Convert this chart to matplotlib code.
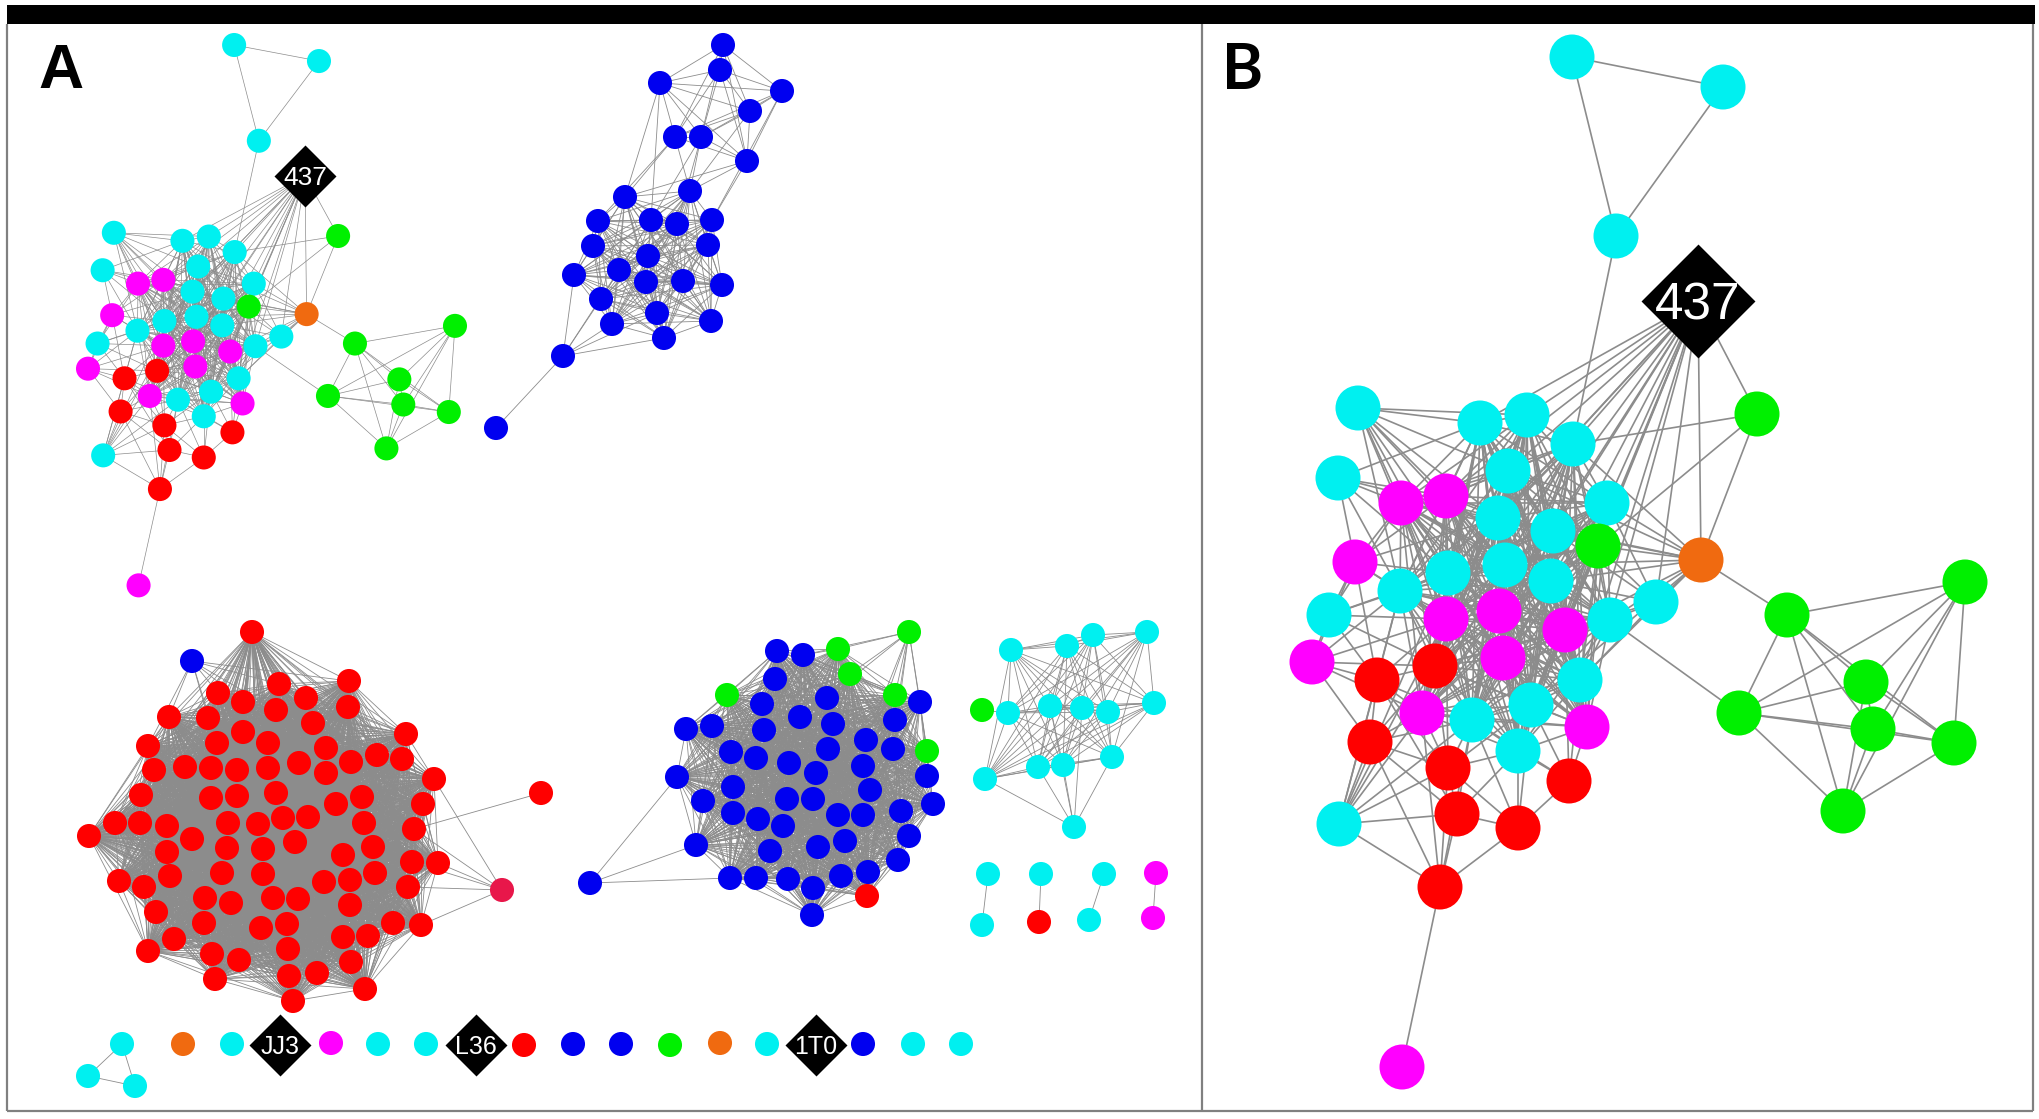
import itertools
import matplotlib
matplotlib.use("Agg")
import matplotlib.pyplot as plt
from matplotlib.collections import LineCollection
from matplotlib.patches import Rectangle

W, H, DPI = 2040, 1119, 100
COL = {'c': '#00F0F0', 'm': '#FF00FF', 'r': '#FF0000', 'b': '#0000F0',
       'g': '#00F000', 'o': '#F06A10', 'k': '#E8174A'}
EDGE = '#8c8c8c'
FONT = ['Liberation Sans', 'DejaVu Sans']

# ---------------- Graph around node 437 (panel B coordinates) ----------------
b_x = [1572, 1723, 1616, 1698, 1757, 1358, 1480, 1527, 1573, 1338, 1508, 1401, 1446, 1498,
       1553, 1607, 1598, 1701, 1355, 1505, 1448, 1551, 1400, 1329, 1446, 1499, 1565, 1610,
       1656, 1312, 1377, 1435, 1503, 1580, 1531, 1422, 1472, 1587, 1370, 1448, 1518, 1569,
       1339, 1457, 1518, 1440, 1402, 1787, 1965, 1866, 1739, 1873, 1954, 1843]
b_y = [57, 87, 236, 301, 414, 408, 423, 415, 444, 478, 471, 503, 496, 518,
       531, 503, 546, 560, 562, 565, 573, 581, 591, 615, 619, 611, 630, 620,
       602, 662, 680, 666, 658, 680, 705, 713, 720, 727, 742, 768, 751, 781,
       824, 814, 828, 887, 1067, 615, 582, 682, 713, 729, 743, 811]
b_col = ['c', 'c', 'c', 'D', 'g', 'c', 'c', 'c', 'c', 'c', 'c', 'm', 'm', 'c',
         'c', 'c', 'g', 'o', 'm', 'c', 'c', 'c', 'c', 'c', 'm', 'm', 'm', 'c',
         'c', 'm', 'r', 'r', 'm', 'c', 'c', 'm', 'c', 'm', 'r', 'r', 'c', 'r',
         'c', 'r', 'r', 'r', 'm', 'g', 'g', 'g', 'g', 'g', 'g', 'g']
b_labels = {3: '437'}
b_core = [6, 7, 8, 10, 11, 12, 13, 14, 15, 16, 19, 20, 21, 22, 24, 25, 26, 27, 31, 32,
          33, 34, 35, 36, 37, 40]
b_green = [47, 48, 49, 50, 51, 52, 53]
b_links = [
    (0, 1), (0, 2), (1, 2), (2, 8),
    (3, 4), (3, 17), (3, 6), (3, 7), (3, 8), (3, 10), (3, 13), (3, 14), (3, 15), (3, 16),
    (3, 19), (3, 21), (3, 25), (3, 26), (3, 27), (3, 28), (3, 33), (3, 34), (3, 12), (3, 20),
    (4, 8), (4, 17), (4, 16),
    (17, 47), (17, 8), (17, 14), (17, 15), (17, 16), (17, 21), (17, 26), (17, 27), (17, 28),
    (17, 33), (17, 10), (17, 13), (17, 34), (17, 19), (27, 50),
    (5, 6), (5, 7), (5, 10), (5, 11), (5, 12), (5, 13), (5, 20), (5, 22), (5, 19), (5, 24), (5, 25),
    (9, 11), (9, 12), (9, 13), (9, 22), (9, 18), (9, 20), (9, 6),
    (18, 11), (18, 12), (18, 22), (18, 24), (18, 20), (18, 13), (18, 29), (18, 30),
    (23, 18), (23, 22), (23, 24), (23, 29), (23, 30), (23, 31), (23, 20), (23, 11),
    (28, 15), (28, 16), (28, 21), (28, 27), (28, 33), (28, 26), (28, 14),
    (29, 30), (29, 38), (29, 22), (29, 24), (29, 35), (29, 31),
    (30, 22), (30, 24), (30, 31), (30, 35), (30, 38), (30, 36), (30, 39), (30, 42), (30, 43),
    (38, 35), (38, 36), (38, 39), (38, 42), (38, 43), (38, 45), (38, 31),
    (39, 35), (39, 36), (39, 40), (39, 43), (39, 44), (39, 45), (39, 31), (39, 34), (39, 24),
    (41, 37), (41, 40), (41, 44), (41, 33), (41, 34), (41, 36), (41, 26),
    (42, 35), (42, 36), (42, 24), (42, 39), (42, 43), (42, 45), (42, 31), (42, 20), (42, 22),
    (43, 40), (43, 44), (43, 45), (43, 36),
    (44, 40), (44, 45), (44, 34), (44, 36),
    (45, 35), (45, 36), (46, 45),
]

# ---------------- Panel A: upper blue component ----------------
u_x = [723, 720, 660, 782, 750, 675, 701, 747,
       625, 690, 598, 651, 677, 712, 593, 708, 648, 574, 619, 646, 683, 722, 601, 657, 612, 711, 664,
       563, 496]
u_y = [45, 70, 83, 91, 111, 137, 137, 161,
       197, 191, 221, 220, 224, 220, 246, 245, 256, 275, 270, 282, 281, 285, 299, 313, 324, 321, 338,
       356, 428]
u_col = ['b'] * len(u_x)
u_top = list(range(0, 8))
u_core = list(range(8, 27))
u_links = [(27, 17), (27, 22), (27, 24), (27, 26), (27, 23), (27, 18), (28, 27),
           (2, 8), (2, 11), (5, 8), (5, 9), (5, 10), (6, 9), (6, 11), (6, 12), (7, 9), (7, 13),
           (7, 8), (4, 9), (3, 13)]

# ---------------- Panel A: big red component ----------------
r_x = [252, 279, 349, 218, 243, 306, 169, 208, 276, 348, 313, 406, 148, 217, 243, 268, 326, 377,
       402, 351, 299, 154, 185, 211, 237, 268, 326, 434, 141, 211, 237, 276, 336, 362, 423, 115,
       140, 167, 89, 192, 228, 258, 283, 308, 364, 414, 167, 227, 263, 295, 343, 373, 412, 438,
       119, 144, 170, 222, 263, 324, 350, 375, 408, 156, 205, 231, 273, 298, 350, 204, 261, 287,
       393, 421, 174, 148, 343, 368, 212, 239, 288, 351, 215, 289, 317, 365, 293,
       192, 502, 541]
r_y = [632, 684, 681, 693, 702, 698, 717, 718, 710, 707, 723, 734, 746, 743, 732, 743, 748, 755,
       759, 762, 763, 770, 767, 768, 770, 768, 773, 779, 795, 798, 796, 793, 804, 797, 804, 823,
       823, 826, 836, 839, 823, 824, 818, 817, 823, 829, 852, 848, 849, 842, 855, 847, 862, 863,
       881, 887, 876, 873, 874, 882, 880, 873, 887, 912, 898, 903, 898, 899, 905, 923, 928, 924,
       923, 925, 939, 951, 937, 936, 954, 960, 949, 962, 979, 976, 973, 989, 1001,
       661, 890, 793]
r_col = ['r'] * 87 + ['b', 'k', 'r']
r_core = list(range(0, 87))
r_links = [(87, 1), (87, 2), (87, 3), (87, 4), (87, 6), (87, 7), (87, 8), (87, 12), (87, 13),
           (88, 27), (88, 53), (88, 52), (88, 73), (88, 62), (88, 45), (89, 45)]

# ---------------- Panel A: blue / green component ----------------
v_x = [777, 803, 838, 909, 850, 775, 727, 827, 895, 920, 762, 800, 833, 895, 686, 712, 764, 866,
       828, 893, 927, 731, 756, 789, 863, 816, 927, 677, 733, 870, 703, 787, 813, 933, 733, 758,
       838, 863, 901, 783, 909, 845, 696, 770, 818, 898, 730, 756, 788, 841, 868, 813, 867, 812,
       590]
v_y = [651, 655, 649, 632, 674, 679, 695, 698, 695, 702, 704, 717, 724, 720, 729, 726, 730, 740,
       749, 749, 751, 752, 758, 763, 766, 773, 776, 777, 787, 790, 801, 799, 799, 804, 813, 819,
       815, 815, 811, 826, 836, 841, 845, 851, 847, 860, 878, 878, 879, 876, 872, 888, 896, 915,
       883]
v_col = ['b', 'b', 'g', 'g', 'g', 'b', 'g', 'b', 'g', 'b', 'b', 'b', 'b', 'b', 'b', 'b', 'b', 'b',
         'b', 'b', 'g', 'b', 'b', 'b', 'b', 'b', 'b', 'b', 'b', 'b', 'b', 'b', 'b', 'b', 'b', 'b',
         'b', 'b', 'b', 'b', 'b', 'b', 'b', 'b', 'b', 'b', 'b', 'b', 'b', 'b', 'b', 'b', 'r', 'b',
         'b']
v_core = [i for i in range(54) if i != 3]
v_links = [(3, 1), (3, 2), (3, 4), (3, 8), (3, 9), (3, 20), (3, 7), (3, 13), (3, 17), (3, 24),
           (3, 19), (54, 27), (54, 42), (54, 46)]

# ---------------- Panel A: cyan component and small pairs ----------------
k_x = [1011, 1067, 1093, 1147, 982, 1008, 1050, 1082, 1108, 1154, 985, 1038, 1063, 1112, 1074,
       988, 982, 1041, 1039, 1104, 1089, 1156, 1153]
k_y = [650, 646, 635, 632, 710, 713, 706, 708, 712, 703, 779, 767, 765, 757, 827,
       874, 925, 874, 922, 874, 920, 873, 918]
k_col = ['c', 'c', 'c', 'c', 'g', 'c', 'c', 'c', 'c', 'c', 'c', 'c', 'c', 'c', 'c',
         'c', 'c', 'c', 'r', 'c', 'c', 'm', 'm']
k_core = [0, 1, 2, 3, 5, 6, 7, 8, 9, 10, 11, 12, 13]
k_links = [(4, 5), (14, 10), (14, 11), (14, 12), (14, 13), (14, 6), (14, 7),
           (15, 16), (17, 18), (19, 20), (21, 22)]

# ---------------- Panel A: bottom row ----------------
s_x = [122, 183, 232, 280, 331, 378, 426, 476, 524, 573, 621, 670, 720, 767, 816, 863, 913, 961,
       88, 135]
s_y = [1044, 1044, 1044, 1045, 1043, 1044, 1044, 1045, 1045, 1044, 1044, 1045, 1043, 1044, 1045,
       1044, 1044, 1044, 1076, 1086]
s_col = ['c', 'o', 'c', 'D', 'm', 'c', 'c', 'D', 'r', 'b', 'b', 'g', 'o', 'c', 'D', 'b', 'c', 'c',
         'c', 'c']
s_labels = {3: 'JJ3', 7: 'L36', 14: '1T0'}
s_links = [(0, 18), (0, 19), (18, 19)]


def complete(group):
    return list(itertools.combinations(group, 2))


def draw_graph(ax, xs, ys, cols, edges, node_s, dia_s, lw, labels=None, fs=18):
    edges = sorted(set(tuple(sorted(e)) for e in edges))
    segs = [[(xs[i], ys[i]), (xs[j], ys[j])] for i, j in edges]
    ax.add_collection(LineCollection(segs, colors=EDGE, linewidths=lw, zorder=1))
    idx = [i for i, c in enumerate(cols) if c != 'D']
    ax.scatter([xs[i] for i in idx], [ys[i] for i in idx], s=node_s,
               c=[COL[cols[i]] for i in idx], linewidths=0, zorder=2)
    didx = [i for i, c in enumerate(cols) if c == 'D']
    if didx:
        ax.scatter([xs[i] for i in didx], [ys[i] for i in didx], s=dia_s, marker='D',
                   c='black', linewidths=0, zorder=3)
    for i, t in (labels or {}).items():
        ax.text(xs[i], ys[i], t, color='white', fontsize=fs, family=FONT,
                ha='center', va='center_baseline', zorder=4)


fig = plt.figure(figsize=(W / DPI, H / DPI), dpi=DPI)
ax = fig.add_axes([0, 0, 1, 1])
ax.set_xlim(0, W)
ax.set_ylim(H, 0)
ax.axis('off')

# frame
ax.add_patch(Rectangle((7, 5), 2028, 19, facecolor='black', edgecolor='none', zorder=5))
for xs_, ys_ in [([7.5, 7.5], [24, 1111]), ([2033, 2033], [24, 1111]), ([1202, 1202], [24, 1111]),
                 ([7.5, 2033], [1111, 1111])]:
    ax.plot(xs_, ys_, color='#808080', lw=1.6, solid_capstyle='butt', zorder=5)

ax.text(61, 71, 'A', fontsize=45, fontweight='bold', family=FONT, ha='center', va='center')
ax.text(1243, 71, 'B', fontsize=45, fontweight='bold', family=['Lato', 'DejaVu Sans'],
        ha='center', va='center')

A_NODE, A_DIA, A_LW = 300, 996, 0.6

# panel B: graph of 437
draw_graph(ax, b_x, b_y, b_col, complete(b_core) + complete(b_green) + b_links,
           1050, 3364, 1.2, b_labels, fs=37)

# panel A components
draw_graph(ax, u_x, u_y, u_col, complete(u_top) + complete(u_core) + u_links, A_NODE, A_DIA, A_LW)
draw_graph(ax, r_x, r_y, r_col, complete(r_core) + r_links, A_NODE, A_DIA, A_LW)
draw_graph(ax, v_x, v_y, v_col, complete(v_core) + v_links, A_NODE, A_DIA, A_LW)
draw_graph(ax, k_x, k_y, k_col, complete(k_core) + k_links, A_NODE, A_DIA, A_LW)
draw_graph(ax, s_x, s_y, s_col, s_links, A_NODE, A_DIA, A_LW, s_labels, fs=18)

# same 437 graph, drawn smaller in panel A (own axes with panel-B data limits)
sx, sy = 0.562, 0.535          # scale from panel B layout to panel A
ox, oy = 88 - 1312 * sx, 236 - 414 * sy
x0, x1 = 1200, 2040
y0, y1 = 0, 1119
px0, px1 = ox + x0 * sx, ox + x1 * sx
py0, py1 = oy + y0 * sy, oy + y1 * sy
axi = fig.add_axes([px0 / W, 1 - py1 / H, (px1 - px0) / W, (py1 - py0) / H])
axi.set_xlim(x0, x1)
axi.set_ylim(y1, y0)
axi.axis('off')
axi.patch.set_alpha(0)
draw_graph(axi, b_x, b_y, b_col, complete(b_core) + complete(b_green) + b_links,
           A_NODE, A_DIA, 0.5, b_labels, fs=19)

fig.savefig('out.png', dpi=DPI)
